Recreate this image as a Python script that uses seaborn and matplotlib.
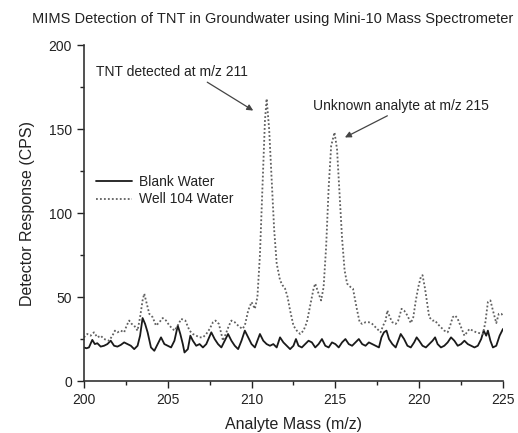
import numpy as np
import pandas as pd
import matplotlib
matplotlib.use("Agg")
import matplotlib.pyplot as plt
import seaborn as sns
from matplotlib.ticker import MultipleLocator

# ---- data ----
blank_mz = [200.0, 200.15, 200.3, 200.5, 200.65, 200.8, 201.0, 201.2, 201.4, 201.6, 201.8, 202.0, 202.2, 202.4,
            202.6, 202.8, 203.0, 203.2, 203.35, 203.5, 203.65, 203.8, 204.0, 204.2, 204.4, 204.6, 204.8, 205.0,
            205.2, 205.4, 205.6, 205.75, 205.9, 206.0, 206.2, 206.35, 206.5, 206.7, 206.9, 207.1, 207.3, 207.6,
            207.8, 208.0, 208.2, 208.4, 208.6, 208.8, 209.0, 209.2, 209.4, 209.6, 209.8, 210.0, 210.2, 210.35,
            210.5, 210.7, 210.9, 211.1, 211.3, 211.5, 211.7, 211.9, 212.1, 212.3, 212.5, 212.65, 212.8, 213.0,
            213.2, 213.4, 213.6, 213.8, 214.0, 214.2, 214.4, 214.6, 214.8, 215.0, 215.2, 215.4, 215.6, 215.8,
            216.0, 216.2, 216.4, 216.6, 216.8, 217.0, 217.2, 217.4, 217.6, 217.75, 217.9, 218.05, 218.2, 218.4,
            218.6, 218.75, 218.9, 219.1, 219.3, 219.5, 219.7, 219.85, 220.0, 220.2, 220.4, 220.6, 220.8, 220.95,
            221.1, 221.3, 221.5, 221.7, 221.9, 222.1, 222.3, 222.5, 222.7, 222.9, 223.1, 223.3, 223.5, 223.7,
            223.85, 224.0, 224.1, 224.25, 224.4, 224.6, 224.8, 225.0]
blank_cps = [20, 19.5, 20, 24.5, 22, 22.5, 20.5, 21, 22, 24, 21, 20.5, 21.5, 23,
             22, 21, 19, 21, 27, 37.5, 34, 29, 20, 18, 22, 26, 22, 21,
             20, 24, 33, 28, 22, 17, 19, 27, 24, 21, 22, 20, 22, 29,
             25, 22, 20, 24, 28, 24, 21, 19, 24, 30, 26, 22, 20, 24,
             28, 24, 22, 21, 22, 20, 26, 23, 21, 19, 21, 25, 21, 20,
             22, 24, 23, 20, 22, 25, 21, 20, 23, 22, 20, 23, 25, 22,
             21, 23, 25, 22, 21, 23, 22, 21, 20, 26, 29, 30, 25, 22,
             20, 24, 28, 25, 21, 20, 23, 26, 24, 21, 20, 22, 24, 26,
             22, 20, 21, 23, 26, 24, 21, 22, 24, 22, 21, 20, 21, 25,
             30, 27, 30, 24, 20, 21, 27, 31]

well_mz = [200.0, 200.2, 200.4, 200.6, 200.8, 201.0, 201.2, 201.5, 201.7, 201.85, 202.0, 202.2, 202.4, 202.55,
           202.7, 202.85, 203.0, 203.2, 203.35, 203.5, 203.6, 203.75, 203.9, 204.1, 204.3, 204.5, 204.7, 204.9,
           205.1, 205.4, 205.6, 205.8, 206.05, 206.3, 206.5, 206.7, 206.9, 207.1, 207.3, 207.5, 207.7, 207.85,
           208.05, 208.2, 208.3, 208.5, 208.65, 208.8, 209.0, 209.2, 209.45, 209.6, 209.8, 210.0, 210.1, 210.2,
           210.35, 210.5, 210.65, 210.8, 210.9, 211.05, 211.2, 211.35, 211.5, 211.7, 211.85, 212.0, 212.15, 212.3,
           212.5, 212.7, 212.9, 213.1, 213.3, 213.5, 213.7, 213.8, 214.0, 214.15, 214.3, 214.45, 214.6, 214.75,
           214.95, 215.1, 215.25, 215.4, 215.55, 215.7, 215.9, 216.05, 216.2, 216.3, 216.45, 216.6, 216.8, 217.0,
           217.2, 217.4, 217.6, 217.7, 217.85, 218.0, 218.1, 218.25, 218.4, 218.6, 218.75, 218.95, 219.1, 219.3,
           219.5, 219.65, 219.8, 219.95, 220.1, 220.2, 220.35, 220.5, 220.6, 220.8, 220.95, 221.1, 221.3, 221.5,
           221.7, 221.85, 222.0, 222.15, 222.3, 222.5, 222.7, 222.85, 223.0, 223.2, 223.4, 223.6, 223.8, 223.95,
           224.1, 224.25, 224.4, 224.6, 224.75, 224.9, 225.0]
well_cps = [26, 28, 27, 29, 26, 27, 25, 24, 27, 30, 29, 30, 29, 33,
            36, 34, 33, 30, 38, 48, 52, 46, 40, 38, 33, 35, 37.5, 36,
            33, 30, 33, 37, 36, 30, 28, 27, 26, 26, 28, 31, 35, 36,
            34, 28, 24, 29, 33, 36, 35, 33, 31, 33, 42, 47, 45, 43,
            50, 75, 115, 155, 168, 150, 120, 90, 70, 60, 57, 55, 50, 42,
            33, 30, 28, 30, 35, 45, 55, 58, 52, 48, 56, 80, 115, 140,
            148, 138, 112, 85, 66, 58, 56, 55, 47, 42, 35, 34, 35, 35,
            34, 32, 30, 29, 33, 36, 42, 38, 35, 34, 36, 43, 42, 39,
            34.5, 38, 48, 56, 62, 63, 55, 45, 38, 36, 36, 34, 32, 30,
            29, 33, 38, 39, 37, 32, 27, 29, 31, 30, 29, 28.5, 28, 35,
            47, 48, 42, 34.5, 40, 40, 39]

series_names = ["Blank Water", "Well 104 Water"]
x_ticks = [200, 205, 210, 215, 220, 225]
y_ticks = [0, 50, 100, 150, 200]

df = pd.concat([
    pd.DataFrame({"mz": blank_mz, "cps": blank_cps, "series": series_names[0]}),
    pd.DataFrame({"mz": well_mz, "cps": well_cps, "series": series_names[1]}),
], ignore_index=True)

sns.set_style("ticks")
plt.rcParams["font.family"] = ["Liberation Sans", "DejaVu Sans"]
TXT = "#222222"

fig = plt.figure(figsize=(5.18, 4.33), dpi=100)
ax = fig.add_axes([0.162, 0.12, 0.809, 0.776])

sns.lineplot(data=df, x="mz", y="cps", hue="series", style="series",
             palette={series_names[0]: "#1a1a1a", series_names[1]: "#606060"},
             dashes={series_names[0]: "", series_names[1]: (1, 1.2)},
             sort=False, estimator=None, ax=ax, linewidth=1.3)

ax.set_xlim(200, 225)
ax.set_ylim(0, 200)
ax.set_xticks(x_ticks)
ax.set_yticks(y_ticks)
ax.xaxis.set_minor_locator(MultipleLocator(2.5))
ax.yaxis.set_minor_locator(MultipleLocator(25))
ax.tick_params(which="major", length=5, width=1, colors=TXT, labelsize=10)
ax.tick_params(which="minor", length=3, width=1, colors=TXT)
sns.despine(ax=ax)
for s in ["left", "bottom"]:
    ax.spines[s].set_color("#333333")
    ax.spines[s].set_linewidth(1.2)

ax.set_xlabel("Analyte Mass (m/z)", fontsize=11.5, color=TXT, labelpad=7)
ax.set_ylabel("Detector Response (CPS)", fontsize=11.5, color=TXT, labelpad=10)
fig.text(0.527, 0.955, "MIMS Detection of TNT in Groundwater using Mini-10 Mass Spectrometer",
         ha="center", va="center", fontsize=10.5, color=TXT)

leg = ax.legend(loc="upper left", bbox_to_anchor=(0.015, 0.63), frameon=False,
                fontsize=10, handlelength=2.6, labelspacing=0.25, handletextpad=0.5,
                borderaxespad=0)
for t in leg.get_texts():
    t.set_color(TXT)

ax.annotate("TNT detected at m/z 211", xy=(210.1, 161), xytext=(200.7, 184),
            fontsize=10, color=TXT, va="center", ha="left",
            arrowprops=dict(arrowstyle="-|>", color="#444444", lw=0.9,
                            shrinkA=0, shrinkB=0, mutation_scale=9,
                            relpos=(0.7, 0.0)))
ax.annotate("Unknown analyte at m/z 215", xy=(215.57, 145), xytext=(213.66, 164),
            fontsize=10, color=TXT, va="center", ha="left",
            arrowprops=dict(arrowstyle="-|>", color="#444444", lw=0.9,
                            shrinkA=0, shrinkB=0, mutation_scale=9,
                            relpos=(0.46, 0.0)))

fig.savefig("out.png", dpi=100)
